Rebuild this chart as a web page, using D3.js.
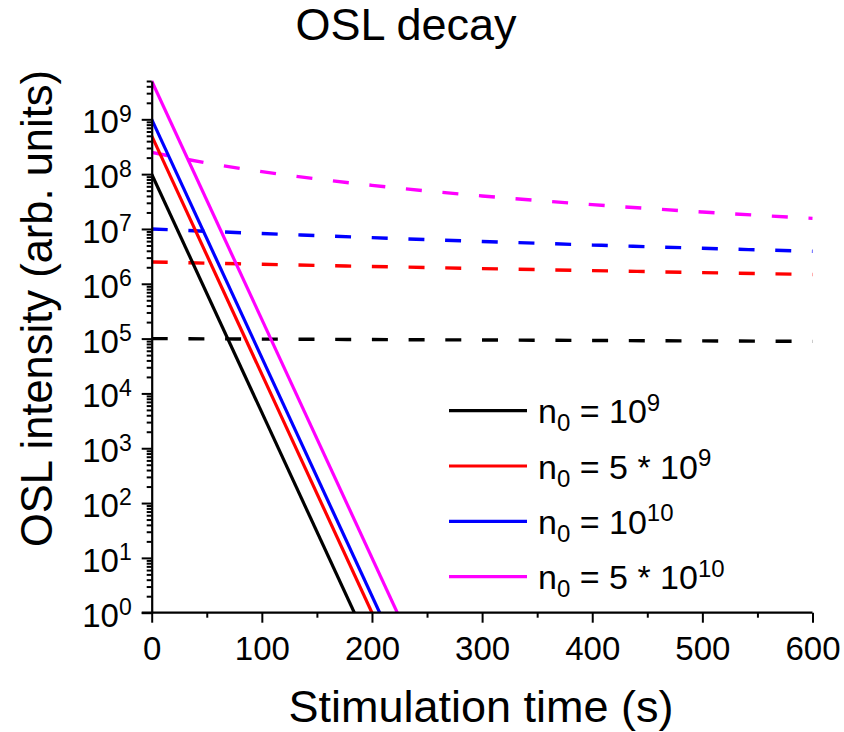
<!DOCTYPE html>
<html>
<head>
<meta charset="utf-8">
<script src="https://cdn.jsdelivr.net/npm/d3@7"></script>
<style>
  html, body { margin: 0; padding: 0; background: #fff; }
  svg text { font-family: "Liberation Sans", Arial, sans-serif; fill: #000; }
</style>
</head>
<body>
<svg id="chart" width="844" height="732"></svg>
<script>
// ---- data -------------------------------------------------------------
// Initial trap populations (legend entries) and colours
const seriesLabels = ["10^9", "5 * 10^9", "10^10", "5 * 10^10"];
const seriesColors = ["#000000", "#ff0000", "#0000ff", "#ff00ff"];

// First-order decay (solid): straight lines on the log axis
const firstOrderTime = [
  [0, 184],
  [0, 200],
  [0, 207],
  [0, 223]
];
const firstOrderIntensity = [
  [1e8, 1],
  [5e8, 1],
  [1e9, 1],
  [5e9, 1]
];

// Second-order decay (dashed)
const secondOrderTime = [0, 50, 100, 150, 200, 300, 400, 500, 600];
const secondOrderIntensity = [
  [1.0e5, 9.90e4, 9.80e4, 9.71e4, 9.61e4, 9.43e4, 9.25e4, 9.07e4, 8.90e4],
  [2.5e6, 2.38e6, 2.27e6, 2.16e6, 2.07e6, 1.89e6, 1.74e6, 1.60e6, 1.48e6],
  [1.0e7, 9.07e6, 8.26e6, 7.56e6, 6.94e6, 5.92e6, 5.10e6, 4.44e6, 3.91e6],
  [2.5e8, 1.60e8, 1.11e8, 8.16e7, 6.25e7, 4.00e7, 2.78e7, 2.04e7, 1.56e7]
];

// Axis ticks
const xTicks = [0, 100, 200, 300, 400, 500, 600];
const xMinorTicks = [50, 150, 250, 350, 450, 550];
const yDecades = [0, 1, 2, 3, 4, 5, 6, 7, 8, 9];
const yDomain = [1, 5e9];
const xDomain = [0, 600];

// ---- layout -----------------------------------------------------------
const svg = d3.select("#chart");
const plot = { left: 151.7, right: 812.5, top: 81, bottom: 612.7 };

const x = d3.scaleLinear().domain(xDomain).range([plot.left, plot.right]);
const y = d3.scaleLog().domain(yDomain).range([plot.bottom, plot.top]);

svg.append("defs").append("clipPath").attr("id", "plotClip")
  .append("rect")
  .attr("x", plot.left).attr("y", plot.top - 2)
  .attr("width", plot.right - plot.left + 2)
  .attr("height", plot.bottom - plot.top + 2);

// ---- title ------------------------------------------------------------
svg.append("text")
  .attr("x", 406).attr("y", 40)
  .attr("text-anchor", "middle")
  .style("font-size", "45px")
  .text("OSL decay");

// ---- series -----------------------------------------------------------
const lineGen = d3.line()
  .x(d => x(d[0]))
  .y(d => y(d[1]))
  .curve(d3.curveMonotoneX);

const marks = svg.append("g").attr("clip-path", "url(#plotClip)");

secondOrderIntensity.forEach((vals, i) => {
  const pts = secondOrderTime.map((t, j) => [t, vals[j]]);
  marks.append("path")
    .attr("d", lineGen(pts))
    .attr("fill", "none")
    .attr("stroke", seriesColors[i])
    .attr("stroke-width", 3.4)
    .attr("stroke-dasharray", "16,20.7");
});

firstOrderIntensity.forEach((vals, i) => {
  const pts = firstOrderTime[i].map((t, j) => [t, vals[j]]);
  marks.append("path")
    .attr("d", lineGen(pts))
    .attr("fill", "none")
    .attr("stroke", seriesColors[i])
    .attr("stroke-width", 3.2);
});

// ---- axes -------------------------------------------------------------
const axisStyle = g => {
  g.selectAll("path.domain").attr("stroke", "#000").attr("stroke-width", 2.2);
  g.selectAll(".tick line").attr("stroke", "#000").attr("stroke-width", 2);
};

// x axis: major + minor ticks
const xAxis = svg.append("g")
  .attr("transform", `translate(0,${plot.bottom})`)
  .call(d3.axisBottom(x).tickValues(xTicks).tickSize(10).tickSizeOuter(0).tickPadding(14))
  .call(axisStyle);
xAxis.selectAll("text").style("font-size", "33px").attr("dy", "0.71em");
xAxis.select("path.domain").attr("d", `M${plot.left - 10},0H${plot.right}`);

svg.append("g")
  .attr("transform", `translate(0,${plot.bottom})`)
  .call(d3.axisBottom(x).tickValues(xMinorTicks).tickSize(5).tickFormat(""))
  .call(g => g.select("path.domain").remove())
  .call(axisStyle);

// y axis: decades labelled as powers of ten
const yMajor = yDecades.map(k => Math.pow(10, k));
const yMinor = [];
yDecades.forEach(k => {
  for (let m = 2; m <= 9; m++) {
    const v = m * Math.pow(10, k);
    if (v <= yDomain[1]) yMinor.push(v);
  }
});

const yAxis = svg.append("g")
  .attr("transform", `translate(${plot.left},0)`)
  .call(d3.axisLeft(y).tickValues(yMajor).tickSize(10).tickSizeOuter(0).tickPadding(10))
  .call(axisStyle);

yAxis.selectAll(".tick text")
  .style("font-size", "33px")
  .attr("dy", null)
  .attr("y", 13.4)
  .text(null)
  .each(function(d) {
    const t = d3.select(this);
    t.append("tspan").text("10");
    t.append("tspan")
      .attr("dy", -11.5)
      .style("font-size", "23px")
      .text(Math.round(Math.log10(d)));
  });

svg.append("g")
  .attr("transform", `translate(${plot.left},0)`)
  .call(d3.axisLeft(y).tickValues(yMinor).tickSize(5).tickFormat(""))
  .call(g => g.select("path.domain").remove())
  .call(axisStyle);

// ---- axis titles ------------------------------------------------------
svg.append("text")
  .attr("x", 481)
  .attr("y", 722)
  .attr("text-anchor", "middle")
  .style("font-size", "45px")
  .text("Stimulation time (s)");

svg.append("text")
  .attr("transform", "translate(52,308.5) rotate(-90)")
  .attr("text-anchor", "middle")
  .style("font-size", "43.5px")
  .text("OSL intensity (arb. units)");

// ---- legend -----------------------------------------------------------
const legend = svg.append("g").attr("transform", "translate(449,410.7)");
const rowGap = 55.3;

seriesLabels.forEach((lab, i) => {
  const row = legend.append("g").attr("transform", `translate(0,${i * rowGap})`);
  row.append("line")
    .attr("x1", 0).attr("x2", 78)
    .attr("y1", 0).attr("y2", 0)
    .attr("stroke", seriesColors[i])
    .attr("stroke-width", 3.2);

  const [base, exp] = lab.split("^");
  const txt = row.append("text")
    .attr("x", 89).attr("y", 12.5)
    .style("font-size", "34px");
  txt.append("tspan").text("n");
  txt.append("tspan").attr("dy", 8).style("font-size", "24px").text("0");
  txt.append("tspan").attr("dy", -8).text(" = " + base);
  txt.append("tspan").attr("dy", -12.5).style("font-size", "24px").text(exp);
});
</script>
</body>
</html>
